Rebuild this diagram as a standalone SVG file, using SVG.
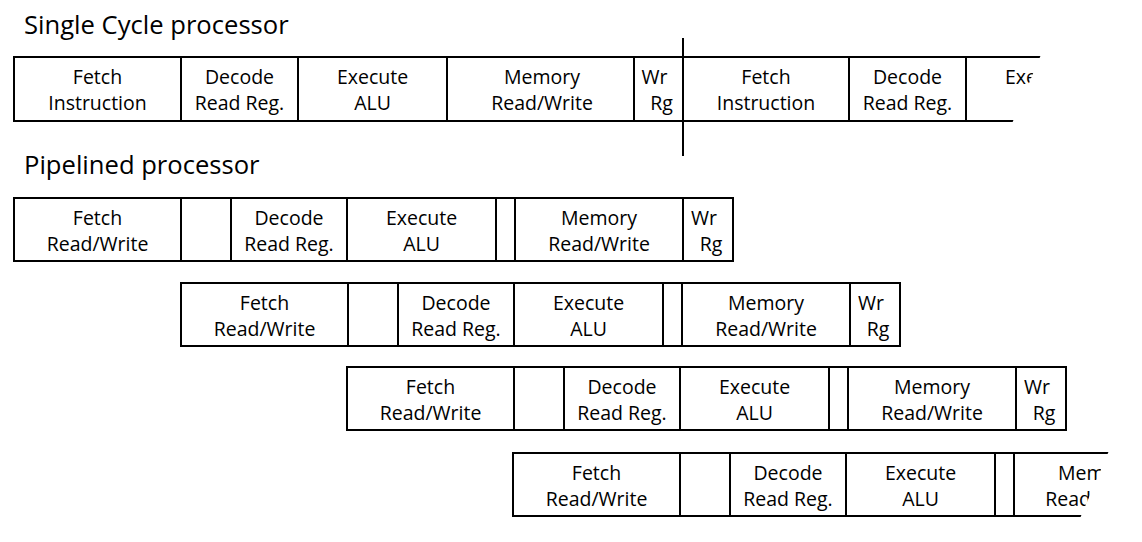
<svg xmlns="http://www.w3.org/2000/svg" width="1142" height="542" viewBox="0 0 1142 542">
<style>
.c{fill:#fff;stroke:#000;stroke-width:2}
.t{font-family:"Open Sans","Liberation Sans",sans-serif;font-size:19.5px;fill:#000;text-anchor:middle}
.h{font-family:"Open Sans","Liberation Sans",sans-serif;font-size:25.6px;fill:#000}
.ln{stroke:#000;stroke-width:2;fill:none}
</style>
<defs>
<clipPath id="clipSC"><polygon points="0,30 1051.4,30 1005,140 0,140"/></clipPath>
<clipPath id="clipP4"><polygon points="0,440 1113.6,440 1075,530 0,530"/></clipPath>
</defs>
<rect width="1142" height="542" fill="#fff"/>
<text class="h" x="24" y="34">Single Cycle processor</text>
<text class="h" x="24" y="174">Pipelined processor</text>

<g id="single-cycle" clip-path="url(#clipSC)">
<g id="sc-fetch1"><rect class="c" x="14" y="57" width="167" height="64"/><text class="t" x="97.5" y="84">Fetch</text><text class="t" x="97.5" y="110">Instruction</text></g>
<g id="sc-decode1"><rect class="c" x="181" y="57" width="117" height="64"/><text class="t" x="239.5" y="84">Decode</text><text class="t" x="239.5" y="110">Read Reg.</text></g>
<g id="sc-execute1"><rect class="c" x="298" y="57" width="149" height="64"/><text class="t" x="372.5" y="84">Execute</text><text class="t" x="372.5" y="110">ALU</text></g>
<g id="sc-memory1"><rect class="c" x="447" y="57" width="187" height="64"/><text class="t" x="542" y="84">Memory</text><text class="t" x="542" y="110">Read/Write</text></g>
<g id="sc-wr1"><rect class="c" x="634" y="57" width="49" height="64"/><text class="t" x="654.5" y="84">Wr</text><text class="t" x="661.5" y="110">Rg</text></g>
<g id="sc-fetch2"><rect class="c" x="683" y="57" width="166" height="64"/><text class="t" x="766" y="84">Fetch</text><text class="t" x="766" y="110">Instruction</text></g>
<g id="sc-decode2"><rect class="c" x="849" y="57" width="117" height="64"/><text class="t" x="907.5" y="84">Decode</text><text class="t" x="907.5" y="110">Read Reg.</text></g>
<g id="sc-execute2"><rect class="c" x="966" y="57" width="149" height="64"/><text class="t" x="1040.5" y="84">Execute</text><text class="t" x="1040.5" y="110">ALU</text></g>
</g>

<g id="connectors">
<line class="ln" x1="683" y1="38" x2="683" y2="156"/>
</g>

<g id="pipe-row1" transform="translate(0,198)">
<g id="p1-fetch"><rect class="c" x="14" y="0" width="167" height="63"/><text class="t" x="97.5" y="27">Fetch</text><text class="t" x="97.5" y="53">Read/Write</text></g>
<g id="p1-stall1"><rect class="c" x="181" y="0" width="50" height="63"/></g>
<g id="p1-decode"><rect class="c" x="231" y="0" width="116" height="63"/><text class="t" x="289" y="27">Decode</text><text class="t" x="289" y="53">Read Reg.</text></g>
<g id="p1-execute"><rect class="c" x="347" y="0" width="149" height="63"/><text class="t" x="421.5" y="27">Execute</text><text class="t" x="421.5" y="53">ALU</text></g>
<g id="p1-stall2"><rect class="c" x="496" y="0" width="19" height="63"/></g>
<g id="p1-memory"><rect class="c" x="515" y="0" width="168" height="63"/><text class="t" x="599" y="27">Memory</text><text class="t" x="599" y="53">Read/Write</text></g>
<g id="p1-wr"><rect class="c" x="683" y="0" width="50" height="63"/><text class="t" x="704" y="27">Wr</text><text class="t" x="711" y="53">Rg</text></g>
</g>

<g id="pipe-row2" transform="translate(167,283)">
<g id="p2-fetch"><rect class="c" x="14" y="0" width="167" height="63"/><text class="t" x="97.5" y="27">Fetch</text><text class="t" x="97.5" y="53">Read/Write</text></g>
<g id="p2-stall1"><rect class="c" x="181" y="0" width="50" height="63"/></g>
<g id="p2-decode"><rect class="c" x="231" y="0" width="116" height="63"/><text class="t" x="289" y="27">Decode</text><text class="t" x="289" y="53">Read Reg.</text></g>
<g id="p2-execute"><rect class="c" x="347" y="0" width="149" height="63"/><text class="t" x="421.5" y="27">Execute</text><text class="t" x="421.5" y="53">ALU</text></g>
<g id="p2-stall2"><rect class="c" x="496" y="0" width="19" height="63"/></g>
<g id="p2-memory"><rect class="c" x="515" y="0" width="168" height="63"/><text class="t" x="599" y="27">Memory</text><text class="t" x="599" y="53">Read/Write</text></g>
<g id="p2-wr"><rect class="c" x="683" y="0" width="50" height="63"/><text class="t" x="704" y="27">Wr</text><text class="t" x="711" y="53">Rg</text></g>
</g>

<g id="pipe-row3" transform="translate(333,367)">
<g id="p3-fetch"><rect class="c" x="14" y="0" width="167" height="63"/><text class="t" x="97.5" y="27">Fetch</text><text class="t" x="97.5" y="53">Read/Write</text></g>
<g id="p3-stall1"><rect class="c" x="181" y="0" width="50" height="63"/></g>
<g id="p3-decode"><rect class="c" x="231" y="0" width="116" height="63"/><text class="t" x="289" y="27">Decode</text><text class="t" x="289" y="53">Read Reg.</text></g>
<g id="p3-execute"><rect class="c" x="347" y="0" width="149" height="63"/><text class="t" x="421.5" y="27">Execute</text><text class="t" x="421.5" y="53">ALU</text></g>
<g id="p3-stall2"><rect class="c" x="496" y="0" width="19" height="63"/></g>
<g id="p3-memory"><rect class="c" x="515" y="0" width="168" height="63"/><text class="t" x="599" y="27">Memory</text><text class="t" x="599" y="53">Read/Write</text></g>
<g id="p3-wr"><rect class="c" x="683" y="0" width="50" height="63"/><text class="t" x="704" y="27">Wr</text><text class="t" x="711" y="53">Rg</text></g>
</g>

<g id="pipe-row4-clip" clip-path="url(#clipP4)">
<g id="pipe-row4" transform="translate(499,453)">
<g id="p4-fetch"><rect class="c" x="14" y="0" width="167" height="63"/><text class="t" x="97.5" y="27">Fetch</text><text class="t" x="97.5" y="53">Read/Write</text></g>
<g id="p4-stall1"><rect class="c" x="181" y="0" width="50" height="63"/></g>
<g id="p4-decode"><rect class="c" x="231" y="0" width="116" height="63"/><text class="t" x="289" y="27">Decode</text><text class="t" x="289" y="53">Read Reg.</text></g>
<g id="p4-execute"><rect class="c" x="347" y="0" width="149" height="63"/><text class="t" x="421.5" y="27">Execute</text><text class="t" x="421.5" y="53">ALU</text></g>
<g id="p4-stall2"><rect class="c" x="496" y="0" width="19" height="63"/></g>
<g id="p4-memory"><rect class="c" x="515" y="0" width="168" height="63"/><text class="t" x="597" y="27">Memory</text><text class="t" x="597" y="53">Read/Write</text></g>
</g>
</g>
</svg>
